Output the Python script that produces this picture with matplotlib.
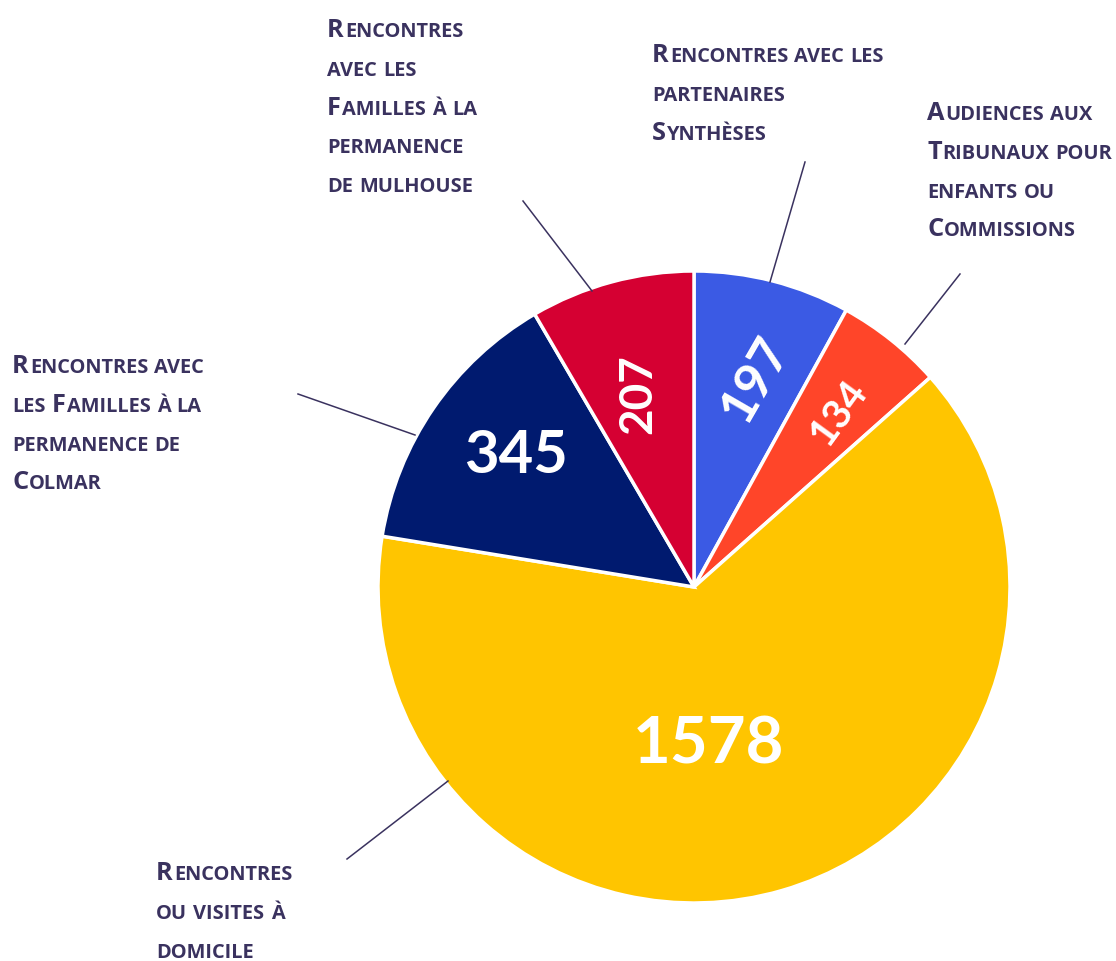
import numpy as np
import matplotlib.pyplot as plt

# data
categories = [
    "Rencontres avec les partenaires Synthèses",
    "Audiences aux Tribunaux pour enfants ou Commissions",
    "Rencontres ou visites à domicile",
    "Rencontres avec les Familles à la permanence de Colmar",
    "Rencontres avec les Familles à la permanence de mulhouse",
]
values = [197, 134, 1578, 345, 207]
colors = ["#3b5ae4", "#ff4529", "#ffc500", "#001a6f", "#d50032"]

# label text split in lines (as displayed)
label_lines = [
    ["Rencontres avec les", "partenaires", "Synthèses"],
    ["Audiences aux", "Tribunaux pour", "enfants ou", "Commissions"],
    ["Rencontres", "ou visites à", "domicile"],
    ["Rencontres avec", "les Familles à la", "permanence de", "Colmar"],
    ["Rencontres", "avec les", "Familles à la", "permanence", "de mulhouse"],
]

W, H = 1116, 962
TXT = "#3a325f"
FONT = "Lato"
LABEL_FONT = "Open Sans"

fig = plt.figure(figsize=(W / 100, H / 100), dpi=100)
ax = fig.add_axes([0, 0, 1, 1])

cx, cy, R = 694, H - 588, 316
wedges, _ = ax.pie(values, colors=colors, startangle=90, counterclock=False,
                   center=(cx, cy), radius=R,
                   wedgeprops=dict(edgecolor="white", linewidth=2.5))
ax.set_xlim(0, W)
ax.set_ylim(0, H)
ax.set_aspect("equal")
ax.axis("off")

# value labels: (radius fraction, angle offset, rotation, fontsize)
num_style = [(0.69, -2, 60, 37), (0.72, -1, 54, 29), (0.50, -11, 0, 47),
             (0.70, -2, 0, 43), (0.64, 1, 90, 33)]
for w, v, (rf, da, rot, fs) in zip(wedges, values, num_style):
    a = np.deg2rad((w.theta1 + w.theta2) / 2 + da)
    ax.text(cx + rf * R * np.cos(a), cy + rf * R * np.sin(a), str(v),
            color="white", fontsize=fs, fontweight="bold", family=FONT,
            ha="center", va="center", rotation=rot, rotation_mode="anchor")

# category labels in small caps
renderer = fig.canvas.get_renderer()


def smallcaps(x, y, lines, big=18.3, small=14.4, lead=38.8):
    for i, line in enumerate(lines):
        px = x
        by = y - i * lead
        for j, word in enumerate(line.split(" ")):
            if j:
                px += small * 0.36
            runs = []
            for ch in word:
                up = ch.isupper()
                if runs and runs[-1][0] == up:
                    runs[-1][1] += ch
                else:
                    runs.append([up, ch])
            for up, seg in runs:
                t = ax.text(px, by, seg.upper(), fontsize=big if up else small,
                            fontweight="bold", family=LABEL_FONT, color=TXT,
                            ha="left", va="baseline")
                px += t.get_window_extent(renderer).width + 1


# label anchors (left, first baseline) and leader lines in image pixels
label_pos = [(652, 62), (927, 120), (156, 880), (12, 373), (327, 37)]
leaders = [((805, 163), (770, 283)), ((960, 275), (905, 345)),
           ((347, 860), (448, 782)), ((298, 395), (415, 436)),
           ((523, 202), (592, 292))]

for lines, (lx, ly), (p0, p1) in zip(label_lines, label_pos, leaders):
    smallcaps(lx, H - ly, lines)
    ax.plot([p0[0], p1[0]], [H - p0[1], H - p1[1]], color=TXT, lw=1.1)

fig.savefig("out.png", dpi=100)
